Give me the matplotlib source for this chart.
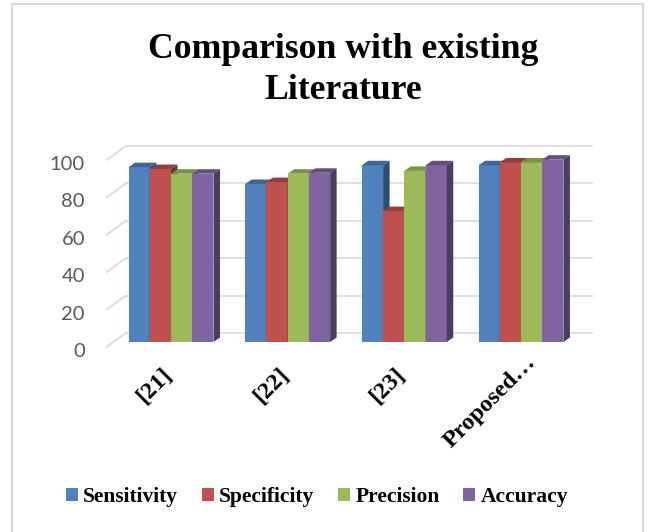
import matplotlib
matplotlib.use('Agg')
import matplotlib.pyplot as plt
import matplotlib.patches as mpatches
import matplotlib.transforms as mtransforms
import numpy as np

# ---------------------------------------------------------------------------
# Données
# ---------------------------------------------------------------------------
categories  = ['[21]', '[22]', '[23]', 'Proposed…']
series      = ['Sensitivity', 'Specificity', 'Precision', 'Accuracy']
sensitivity = [93.5, 84.5, 94.5, 94.5]
specificity = [92.5, 85.5, 70, 96]
precision   = [90, 90, 91.5, 96]
accuracy    = [90, 90.5, 94.5, 97.5]
y_ticks     = [0, 20, 40, 60, 80, 100]

values = [sensitivity, specificity, precision, accuracy]
colors = ['#4F81BD', '#C0504D', '#9BBB59', '#8064A2']


def shade(hex_color, f):
    c = np.array(matplotlib.colors.to_rgb(hex_color))
    return tuple(c * f)


# ---------------------------------------------------------------------------
# Mise en page (pixels, figure 651x532 à 100 dpi)
# ---------------------------------------------------------------------------
W, H = 651, 532
ax_l, ax_r = 112.7, 579.3      # plan avant des barres
y0_px, y100_px = 342.0, 155.0

fig = plt.figure(figsize=(W / 100, H / 100), dpi=100)
ax = fig.add_axes([ax_l / W, (H - y0_px) / H,
                   (ax_r - ax_l) / W, (y0_px - y100_px) / H])
ax.set_xlim(-0.5, 3.5)
ax.set_ylim(0, 100)

px_x = (ax_r - ax_l) / 4.0           # pixels par catégorie
px_y = (y0_px - y100_px) / 100.0     # pixels par unité

def dxu(p):
    return p / px_x

def dyu(p):
    return p / px_y

# Murs : arrière (+13, -9 px) et bord avant (-6, +5 px)
back_dx, back_dy = dxu(13), dyu(9)
front_dx, front_dy = dxu(-6), dyu(-5)
grid_col = '#D9D9D9'
for t in y_ticks:
    ax.plot([-0.5 + back_dx, 3.5 + back_dx], [t + back_dy, t + back_dy],
            color=grid_col, lw=1.2, clip_on=False, zorder=1)
    ax.plot([-0.5 + front_dx, -0.5 + back_dx], [t + front_dy, t + back_dy],
            color=grid_col, lw=1.2, clip_on=False, zorder=1)

# Barres 3D (face avant + dessus + côté)
n = len(series)
group_w = 0.728
bw = group_w / n
ddx, ddy = dxu(6.5), dyu(4.5)
x = np.arange(len(categories))

handles = []
for gi in range(len(categories)):
    for si in range(n):
        h = values[si][gi]
        x0 = x[gi] - group_w / 2 + si * bw
        x1 = x0 + bw
        z = 3 + gi * 10 + si
        b = ax.bar(x0, h, bw, align='edge', color=colors[si], lw=0,
                   zorder=z, clip_on=False)
        top = mpatches.Polygon([(x0, h), (x1, h), (x1 + ddx, h + ddy),
                                (x0 + ddx, h + ddy)], closed=True,
                               fc=shade(colors[si], 0.78), lw=0,
                               zorder=z, clip_on=False)
        side = mpatches.Polygon([(x1, 0), (x1 + ddx, ddy), (x1 + ddx, h + ddy),
                                 (x1, h)], closed=True,
                                fc=shade(colors[si], 0.6), lw=0,
                                zorder=z, clip_on=False)
        ax.add_patch(top)
        ax.add_patch(side)
        if gi == 0:
            handles.append(b)

for s in ax.spines.values():
    s.set_visible(False)
ax.tick_params(length=0)

# Axe Y
ax.set_yticks(y_ticks)
ax.set_yticklabels([str(t) for t in y_ticks], fontsize=14.5, color='#595959',
                   family='Lato')
ax.tick_params(axis='y', pad=20)
off = mtransforms.ScaledTranslation(0, -8 / 100, fig.dpi_scale_trans)
for lab in ax.get_yticklabels():
    lab.set_transform(lab.get_transform() + off)

# Axe X (étiquettes inclinées)
ax.set_xticks(x)
ax.set_xticklabels(categories, rotation=45, ha='right', va='top',
                   rotation_mode='anchor', fontsize=17.5, fontweight='bold',
                   family='Liberation Serif')
ax.tick_params(axis='x', pad=15.5)
lab_dx = [-10, -10, -10, 4]
lab_dy = [0, 0, 0, 11.5]
for lab, ox, oy in zip(ax.get_xticklabels(), lab_dx, lab_dy):
    o = mtransforms.ScaledTranslation(ox / 100, oy / 100, fig.dpi_scale_trans)
    lab.set_transform(lab.get_transform() + o)

# Titre
fig.text(343 / W, 1 - 33 / H, "Comparison with existing\nLiterature",
         ha='center', va='top', fontsize=25.7, fontweight='bold',
         family='Liberation Serif', linespacing=1.31)

# Légende
fig.legend(handles, series, loc='center', bbox_to_anchor=(317 / W, 1 - 497 / H),
           ncol=4, frameon=False, handlelength=0.55, handleheight=0.55,
           handletextpad=0.25, columnspacing=1.1,
           prop={'family': 'Liberation Serif', 'weight': 'bold', 'size': 15.5})

# Cadre
fig.patches.append(mpatches.Rectangle((12 / W, -0.05), (643 - 12) / W, 1.05 - 4 / H,
                                      transform=fig.transFigure, fill=False,
                                      ec='#D9D9D9', lw=1.5))

fig.savefig('out.png', dpi=100)
